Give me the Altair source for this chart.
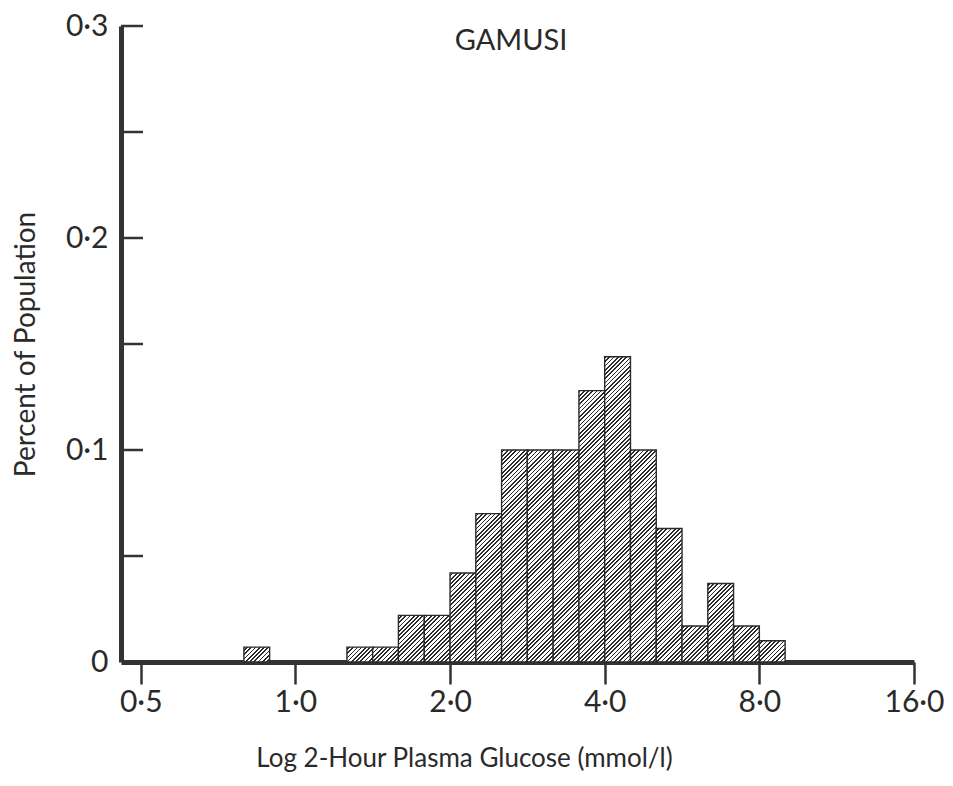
import math
import altair as alt
import pandas as pd

# Histogram bins on a log2 glucose scale (mmol/l) and the share of population in each
bin_lo = [0.794, 1.260, 1.414, 1.587, 1.782, 2.000, 2.245, 2.520, 2.828,
          3.175, 3.564, 4.000, 4.490, 5.040, 5.657, 6.350, 7.127, 8.000]
bin_hi = [0.891, 1.414, 1.587, 1.782, 2.000, 2.245, 2.520, 2.828, 3.175,
          3.564, 4.000, 4.490, 5.040, 5.657, 6.350, 7.127, 8.000, 8.980]
share = [0.007, 0.007, 0.007, 0.022, 0.022, 0.042, 0.070, 0.100, 0.100,
         0.100, 0.128, 0.144, 0.100, 0.063, 0.017, 0.037, 0.017, 0.010]

x_ticks = [0.5, 1, 2, 4, 8, 16]
y_labels = [0, 0.1, 0.2, 0.3]
y_minor = [0.05, 0.1, 0.15, 0.2, 0.25, 0.3]
panel_title = ["GAMUSI"]

W, H = 793, 636
X_MIN, X_MAX = 0.4577, 16
Y_MAX = 0.3
FONT = "Lato"
INK = "#2a2a2a"


def x_px(v):
    return W * math.log2(v / X_MIN) / math.log2(X_MAX / X_MIN)


def y_px(v):
    return H - H * v / Y_MAX


def hatch(x0, x1, top, period=3.0, line=1.2):
    """Diagonal '/' hatching as a striped linear gradient, phase-locked to the page."""
    w = x_px(x1) - x_px(x0)
    h = H - y_px(top)
    span = w + h
    g = span / (w * w + h * h)
    step = period * math.sqrt(2)
    lw = line * math.sqrt(2)
    start = -((x_px(x0) + y_px(top)) % step)
    stops = []
    pos = start
    while pos < span:
        a = max(pos, 0.0)
        b = min(max(pos + lw, 0.0), span)
        c = min(pos + step, span)
        if b > a:
            stops.append((a / span, INK))
            stops.append((b / span, INK))
        stops.append((b / span, "#ffffff"))
        stops.append((max(c, b) / span, "#ffffff"))
        pos += step
    stops = [alt.GradientStop(offset=round(o, 5), color=c) for o, c in stops]
    return alt.LinearGradient(gradient="linear", x1=0, y1=0, x2=g * w, y2=g * h, stops=stops)


x_enc = alt.X(
    "lo:Q",
    scale=alt.Scale(type="log", base=2, domain=[X_MIN, X_MAX], nice=False),
    axis=alt.Axis(
        values=x_ticks,
        labelExpr="replace(format(datum.value, '.1f'), '.', '·')",
        title="Log 2-Hour Plasma Glucose (mmol/l)",
        titleX=343, titleY=96, titleAlign="center", titleBaseline="middle",
        tickSize=22, labelPadding=3, labelFlush=False, labelOverlap=False,
    ),
)
y_enc = alt.Y(
    "v:Q",
    scale=alt.Scale(domain=[0, Y_MAX], nice=False, zero=True),
    axis=alt.Axis(
        values=y_labels,
        labelExpr="datum.value == 0 ? '0' : replace(format(datum.value, '.1f'), '.', '·')",
        title="Percent of Population",
        titleX=-95, titleY=H / 2, titleAngle=-90, titleAlign="center", titleBaseline="middle",
        titleFontSize=28,
        ticks=False, labelPadding=13, labelFlush=False,
    ),
)

layers = []
for lo, hi, v in zip(bin_lo, bin_hi, share):
    df = pd.DataFrame({"lo": [lo], "hi": [hi], "v": [v]})
    layers.append(
        alt.Chart(df)
        .mark_bar(fill=hatch(lo, hi, v), stroke=INK, strokeWidth=1.4)
        .encode(x=x_enc, x2="hi:Q", y=y_enc, y2=alt.datum(0))
    )

# inward-pointing ticks on the y axis
ticks = (
    alt.Chart(pd.DataFrame({"v": y_minor}))
    .mark_rule(color="#333333", strokeWidth=2.5)
    .encode(y=y_enc, x=alt.value(0), x2=alt.value(22))
)

label = (
    alt.Chart(pd.DataFrame({"t": panel_title}))
    .mark_text(font=FONT, fontSize=29, color=INK, align="center", baseline="middle")
    .encode(text="t:N", x=alt.value(390), y=alt.value(15))
)

chart = (
    alt.layer(*layers, ticks, label)
    .properties(
        width=W,
        height=H,
        autosize=alt.AutoSizeParams(type="none"),
        padding={"left": 121, "top": 26, "right": 39, "bottom": 124},
    )
    .configure_view(stroke=None)
    .configure_axis(
        grid=False,
        domainColor="#333333",
        domainWidth=5,
        tickColor="#333333",
        tickWidth=2.5,
        labelFont=FONT,
        labelFontSize=30,
        labelColor=INK,
        titleFont=FONT,
        titleFontSize=26,
        titleFontWeight="normal",
        titleColor=INK,
    )
)

chart.save("out.html", embed_options={"renderer": "svg", "actions": False})
